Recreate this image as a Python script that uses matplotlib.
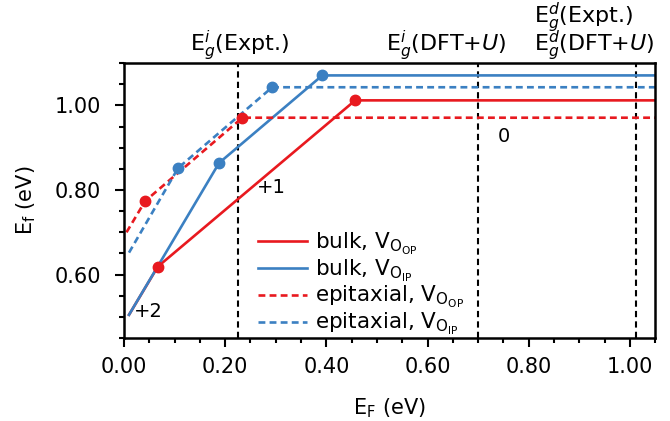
import numpy as np
import matplotlib
matplotlib.use("Agg")
import matplotlib.pyplot as plt
from matplotlib.ticker import MultipleLocator, FormatStrFormatter

red = '#e8191f'
blue = '#3b80c2'

# transition levels (E_F, E_f)
bulk_oop_x = [0.01, 0.067, 0.457, 1.05]
bulk_oop_y = [0.505, 0.619, 1.012, 1.012]
bulk_ip_x = [0.01, 0.188, 0.392, 1.05]
bulk_ip_y = [0.505, 0.864, 1.071, 1.071]
epi_oop_x = [0.005, 0.042, 0.234, 1.05]
epi_oop_y = [0.700, 0.774, 0.971, 0.971]
epi_ip_x = [0.01, 0.107, 0.293, 1.05]
epi_ip_y = [0.652, 0.852, 1.043, 1.043]

# dots only at the transition points
dots = [1, 2]

gaps = [0.225, 0.70, 1.012]

plt.rcParams['font.size'] = 15
plt.rcParams['mathtext.fontset'] = 'dejavusans'

fig = plt.figure(figsize=(6.7, 4.21), dpi=100)
ax = fig.add_axes([0.185, 0.197, 0.793, 0.653])

for g in gaps:
    ax.axvline(g, color='black', ls='--', lw=1.5, dashes=(3, 2))

ax.plot(bulk_oop_x, bulk_oop_y, color=red, lw=1.9, label=r'bulk, V$_{\mathrm{O_{OP}}}$')
ax.plot(bulk_ip_x, bulk_ip_y, color=blue, lw=1.9, label=r'bulk, V$_{\mathrm{O_{IP}}}$')
ax.plot(epi_oop_x, epi_oop_y, color=red, lw=1.9, ls='--', dashes=(2.6, 1.6), label=r'epitaxial, V$_{\mathrm{O_{OP}}}$')
ax.plot(epi_ip_x, epi_ip_y, color=blue, lw=1.9, ls='--', dashes=(2.6, 1.6), label=r'epitaxial, V$_{\mathrm{O_{IP}}}$')

for xs, ys, c in [(bulk_oop_x, bulk_oop_y, red), (bulk_ip_x, bulk_ip_y, blue),
                  (epi_oop_x, epi_oop_y, red), (epi_ip_x, epi_ip_y, blue)]:
    ax.plot([xs[i] for i in dots], [ys[i] for i in dots], 'o', color=c, ms=7.5)

ax.text(0.048, 0.512, '+2', ha='center', va='center', fontsize=14)
ax.text(0.291, 0.805, '+1', ha='center', va='center', fontsize=14)
ax.text(0.750, 0.926, '0', ha='center', va='center', fontsize=14)

tr = ax.get_xaxis_transform()
ax.text(0.228, 1.045, r'E$_g^i$(Expt.)', transform=tr, ha='center', va='baseline', fontsize=16)
ax.text(0.756, 1.045, r'E$_g^i$(DFT+$U$)', transform=tr, ha='right', va='baseline', fontsize=16)
ax.text(0.81, 1.045, 'E$_g^d$(Expt.)\nE$_g^d$(DFT+$U$)', transform=tr, ha='left',
        va='baseline', multialignment='left', linespacing=0.7, fontsize=16)

ax.set_xlim(0, 1.05)
ax.set_ylim(0.45, 1.10)
ax.xaxis.set_major_locator(MultipleLocator(0.2))
ax.xaxis.set_minor_locator(MultipleLocator(0.05))
ax.yaxis.set_major_locator(MultipleLocator(0.2))
ax.yaxis.set_minor_locator(MultipleLocator(0.05))
ax.xaxis.set_major_formatter(FormatStrFormatter('%.2f'))
ax.yaxis.set_major_formatter(FormatStrFormatter('%.2f'))
ax.tick_params(which='major', length=6.5, width=1.5)
ax.tick_params(which='minor', length=3.5, width=1.5)
ax.tick_params(axis='x', which='major', pad=7)
ax.tick_params(axis='y', which='major', pad=10)
for s in ax.spines.values():
    s.set_linewidth(1.8)

ax.set_xlabel(r'E$_\mathrm{F}$ (eV)', labelpad=14)
ax.set_ylabel(r'E$_\mathrm{f}$ (eV)', labelpad=12)

ax.legend(loc='upper left', bbox_to_anchor=(0.252, 0.39), frameon=False,
          borderpad=0, borderaxespad=0, handlelength=2.3, labelspacing=0.03,
          handletextpad=0.35, fontsize=15.5)

fig.savefig('out.png', dpi=100)
